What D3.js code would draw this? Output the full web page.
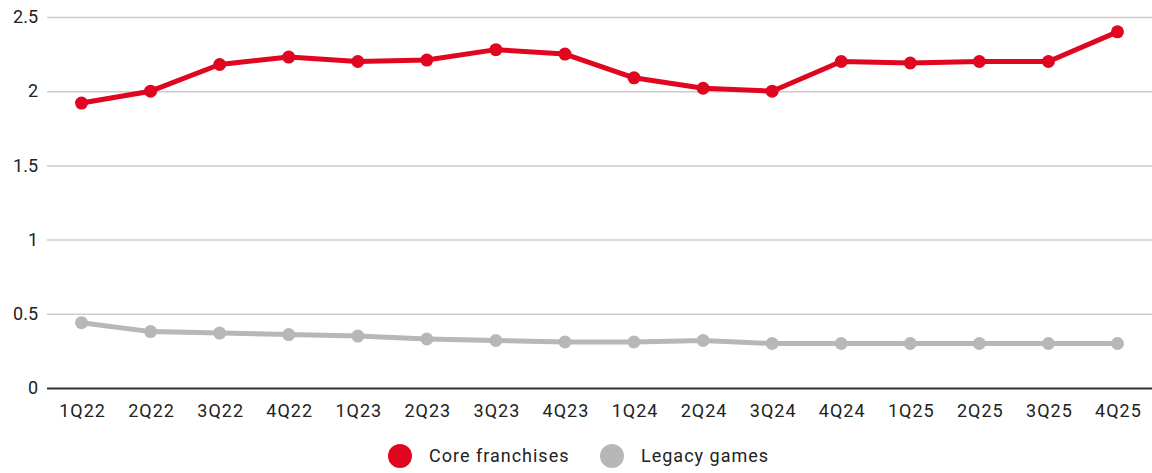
<!DOCTYPE html>
<html><head><meta charset="utf-8">
<script src="https://cdn.jsdelivr.net/npm/d3@7"></script>
<style>
html,body{margin:0;padding:0;background:#fff;}
svg{display:block;font-family:Roboto,"Noto Sans",sans-serif;}
</style></head>
<body><svg id="chart" width="1152" height="473"></svg>
<script>
const quarters = ["1Q22","2Q22","3Q22","4Q22","1Q23","2Q23","3Q23","4Q23","1Q24","2Q24","3Q24","4Q24","1Q25","2Q25","3Q25","4Q25"];
const coreFranchises = [1.92,2.00,2.18,2.23,2.20,2.21,2.28,2.25,2.09,2.02,2.00,2.20,2.19,2.20,2.20,2.40];
const legacyGames = [0.44,0.38,0.37,0.36,0.35,0.33,0.32,0.31,0.31,0.32,0.30,0.30,0.30,0.30,0.30,0.30];
const yTicks = [0,0.5,1,1.5,2,2.5];
const seriesNames = ["Core franchises","Legacy games"];
const seriesColors = ["#e0061f","#b7b7b7"];

const svg = d3.select("#chart");
const mLeft = 47, mRight = 1152, mTop = 17, mBottom = 388;
const x = d3.scalePoint().domain(quarters).range([mLeft, mRight]).padding(0.5);
const y = d3.scaleLinear().domain([0,2.5]).range([mBottom, mTop]);

// gridlines
const yAxis = d3.axisLeft(y).tickValues(yTicks).tickSize(-(mRight-mLeft)).tickFormat(d3.format("~g")).tickPadding(9);
const gy = svg.append("g").attr("transform",`translate(${mLeft},0)`).call(yAxis);
gy.select(".domain").remove();
gy.selectAll(".tick line").attr("stroke", d => d===0 ? "#333" : "#cccccc").attr("stroke-width", d => d===0 ? 2 : 1.5);
gy.selectAll(".tick text").attr("fill","#222").style("font-size","18px").style("font-family","Roboto");

const xAxis = d3.axisBottom(x).tickSize(0).tickPadding(16);
const gx = svg.append("g").attr("transform",`translate(0,${mBottom})`).call(xAxis);
gx.select(".domain").remove();
gx.selectAll(".tick text").attr("fill","#222").attr("dx","0.5px").style("font-size","18px")
  .style("letter-spacing","1px").style("font-family","Roboto");

const data = [coreFranchises, legacyGames];
const line = d3.line().x((d,i)=>x(quarters[i])).y(d=>y(d));
[1,0].forEach(k => {
  svg.append("path").datum(data[k]).attr("d", line).attr("fill","none")
    .attr("stroke", seriesColors[k]).attr("stroke-width",5).attr("stroke-linejoin","round");
  svg.append("g").selectAll("circle").data(data[k]).join("circle")
    .attr("cx",(d,i)=>x(quarters[i])).attr("cy",d=>y(d)).attr("r",6.5).attr("fill",seriesColors[k]);
});

// legend
const legendPos = [400, 612];
seriesNames.forEach((n,k) => {
  svg.append("circle").attr("cx",legendPos[k]).attr("cy",456).attr("r",12).attr("fill",seriesColors[k]);
  svg.append("text").attr("x",legendPos[k]+29).attr("y",456).attr("dy","0.35em")
    .attr("fill","#222").style("font-size","18px").style("letter-spacing","1px").text(n);
});
</script></body></html>
